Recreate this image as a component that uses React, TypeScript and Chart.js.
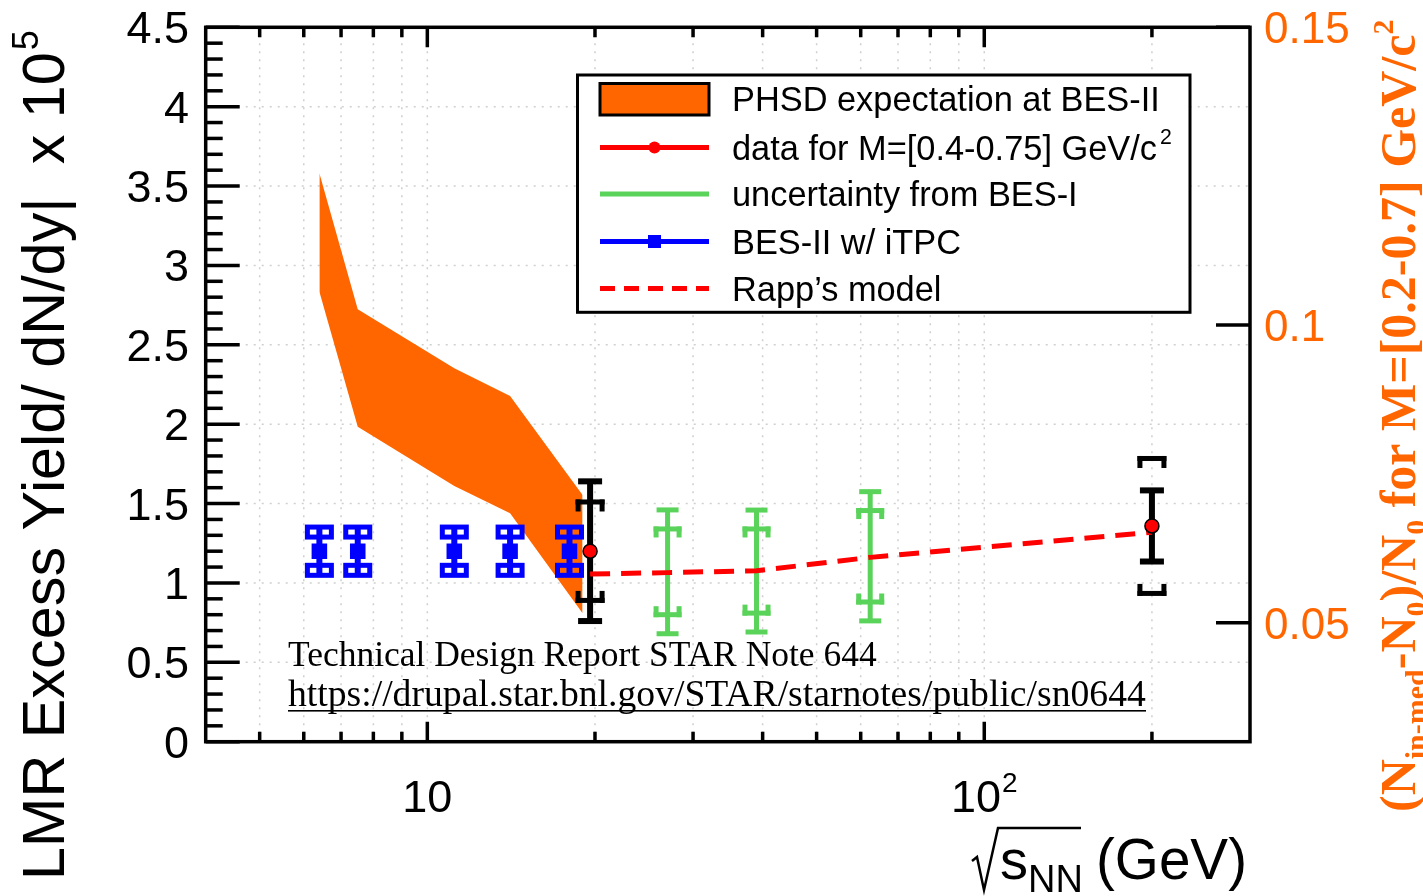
import React, { useEffect, useRef } from 'react';
import { Chart, registerables } from 'chart.js';

Chart.register(...registerables);

const W = 1423;
const H = 896;

// ---------- data ----------
// PHSD expectation band (orange)
const phsdEnergy = [6.4, 7.5, 11.18, 14.08, 19.0];
const phsdLow = [2.835, 1.984, 1.611, 1.439, 0.809];
const phsdHigh = [3.58, 2.724, 2.352, 2.178, 1.554];

// Rapp's model (red dashed)
const rappEnergy = [19.6, 27, 39, 62.4, 200];
const rappYield = [1.056, 1.065, 1.077, 1.161, 1.32];

// BES-II w/ iTPC projections (blue)
const besIIEnergy = [6.4, 7.5, 11.18, 14.08, 18.0];
const besIIYield = [1.2, 1.2, 1.2, 1.2, 1.2];
const besIIErr = [0.152, 0.152, 0.152, 0.152, 0.152];

// data for M=[0.4-0.75] GeV/c2 (black bars, red marker)
const dataEnergy = [19.6, 200];
const dataYield = [1.2, 1.359];
const dataStat = [0.44, 0.224];
const dataSys = [0.31, 0.425];

// uncertainty from BES-I (green)
const besIEnergy = [27, 39, 62.4];
const besIYield = [1.07, 1.075, 1.168];
const besIStat = [0.39, 0.384, 0.407];
const besISys = [0.27, 0.265, 0.288];

// ticks
const yTickValues = [0, 0.5, 1, 1.5, 2, 2.5, 3, 3.5, 4, 4.5];
const yTickLabels = ['0', '0.5', '1', '1.5', '2', '2.5', '3', '3.5', '4', '4.5'];
const xMajorValues = [10, 100];
const xMajorLabels = ['10', '10'];
const xMajorSup = ['', '2'];
const xMinorValues = [5, 6, 7, 8, 9, 20, 30, 40, 50, 60, 70, 80, 90, 200];
const rightTickValues = [0.05, 0.1, 0.15];
const rightTickLabels = ['0.05', '0.1', '0.15'];

const ORANGE = '#ff6600';
const GREEN = '#5ad35a';
const BLUE = '#0000ff';
const RED = '#ff0000';
const SANS = '"Liberation Sans", Arial, Helvetica, sans-serif';
const SERIF = '"Liberation Serif", "Times New Roman", serif';

function fillBar(ctx: any, x: number, y: number, w: number, h: number) {
  ctx.fillRect(x, y, w, h);
}

function drawBracket(ctx: any, px: number, py: number, bw: number, t: number, leg: number, top: boolean) {
  fillBar(ctx, px - bw / 2, py - t / 2, bw, t);
  if (top) {
    fillBar(ctx, px - bw / 2, py - t / 2, t, leg);
    fillBar(ctx, px + bw / 2 - t, py - t / 2, t, leg);
  } else {
    fillBar(ctx, px - bw / 2, py + t / 2 - leg, t, leg);
    fillBar(ctx, px + bw / 2 - t, py + t / 2 - leg, t, leg);
  }
}

function drawErrorBars(chart: any) {
  const ctx = chart.ctx;
  const xs = chart.scales.x;
  const ys = chart.scales.y;
  ctx.save();
  // green: BES-I uncertainty
  ctx.fillStyle = GREEN;
  besIEnergy.forEach((e, i) => {
    const px = xs.getPixelForValue(e);
    const c = besIYield[i];
    const yt = ys.getPixelForValue(c + besIStat[i]);
    const yb = ys.getPixelForValue(c - besIStat[i]);
    fillBar(ctx, px - 2.5, yt, 5, yb - yt);
    fillBar(ctx, px - 11, yt - 2.5, 22, 5);
    fillBar(ctx, px - 11, yb - 2.5, 22, 5);
    drawBracket(ctx, px, ys.getPixelForValue(c + besISys[i]), 28, 5, 11, true);
    drawBracket(ctx, px, ys.getPixelForValue(c - besISys[i]), 28, 5, 11, false);
  });
  // blue: BES-II projections
  ctx.strokeStyle = BLUE;
  ctx.fillStyle = BLUE;
  ctx.lineWidth = 5;
  besIIEnergy.forEach((e, i) => {
    const px = xs.getPixelForValue(e);
    const c = besIIYield[i];
    const yt = ys.getPixelForValue(c + besIIErr[i]);
    const yb = ys.getPixelForValue(c - besIIErr[i]);
    fillBar(ctx, px - 3, yt, 6, yb - yt);
    ctx.strokeRect(px - 12, yt, 24, 10);
    ctx.strokeRect(px - 12, yb - 10, 24, 10);
  });
  // black: data
  ctx.fillStyle = '#000';
  dataEnergy.forEach((e, i) => {
    const px = xs.getPixelForValue(e);
    const c = dataYield[i];
    const yt = ys.getPixelForValue(c + dataStat[i]);
    const yb = ys.getPixelForValue(c - dataStat[i]);
    fillBar(ctx, px - 3, yt, 6, yb - yt);
    fillBar(ctx, px - 12, yt - 3, 24, 6);
    fillBar(ctx, px - 12, yb - 3, 24, 6);
    drawBracket(ctx, px, ys.getPixelForValue(c + dataSys[i]), 29, 5, 12, true);
    drawBracket(ctx, px, ys.getPixelForValue(c - dataSys[i]), 29, 5, 12, false);
  });
  ctx.restore();
}

function drawGrid(chart: any) {
  const ctx = chart.ctx;
  const a = chart.chartArea;
  const xs = chart.scales.x;
  const ys = chart.scales.y;
  ctx.save();
  ctx.strokeStyle = '#cfcfcf';
  ctx.lineWidth = 1.5;
  ctx.setLineDash([2, 6]);
  yTickValues.forEach((v) => {
    if (v <= 0 || v >= 4.5) return;
    const py = ys.getPixelForValue(v);
    ctx.beginPath();
    ctx.moveTo(a.left, py);
    ctx.lineTo(a.right, py);
    ctx.stroke();
  });
  [...xMinorValues, ...xMajorValues].forEach((v) => {
    const px = xs.getPixelForValue(v);
    ctx.beginPath();
    ctx.moveTo(px, a.top);
    ctx.lineTo(px, a.bottom);
    ctx.stroke();
  });
  ctx.restore();
}

function drawAxes(chart: any) {
  const ctx = chart.ctx;
  const a = chart.chartArea;
  const xs = chart.scales.x;
  const ys = chart.scales.y;
  const y2 = chart.scales.y2;
  ctx.save();
  ctx.strokeStyle = '#000';
  ctx.fillStyle = '#000';
  ctx.lineWidth = 3.5;
  ctx.strokeRect(a.left, a.top, a.right - a.left, a.bottom - a.top);
  // left ticks: major every 0.5, minor every 0.1
  for (let k = 0; k <= 45; k++) {
    const v = k / 10;
    const py = ys.getPixelForValue(v);
    const len = k % 5 === 0 ? 34 : 17;
    ctx.beginPath();
    ctx.moveTo(a.left, py);
    ctx.lineTo(a.left + len, py);
    ctx.stroke();
  }
  // right ticks
  rightTickValues.forEach((v) => {
    const py = y2.getPixelForValue(v);
    ctx.beginPath();
    ctx.moveTo(a.right, py);
    ctx.lineTo(a.right - 34, py);
    ctx.stroke();
  });
  // top/bottom ticks
  const xt = [
    ...xMinorValues.map((v) => [v, 10]),
    ...xMajorValues.map((v) => [v, 20]),
  ];
  xt.forEach(([v, len]) => {
    const px = xs.getPixelForValue(v);
    ctx.beginPath();
    ctx.moveTo(px, a.bottom);
    ctx.lineTo(px, a.bottom - len);
    ctx.moveTo(px, a.top);
    ctx.lineTo(px, a.top + len);
    ctx.stroke();
  });

  // left tick labels
  ctx.font = `45px ${SANS}`;
  ctx.textAlign = 'right';
  ctx.textBaseline = 'alphabetic';
  yTickValues.forEach((v, i) => {
    const py = ys.getPixelForValue(v);
    ctx.fillText(yTickLabels[i], 189, py + 16);
  });
  // bottom tick labels
  xMajorValues.forEach((v, i) => {
    const px = xs.getPixelForValue(v);
    ctx.font = `45px ${SANS}`;
    const w1 = ctx.measureText(xMajorLabels[i]).width;
    let w2 = 0;
    if (xMajorSup[i]) {
      ctx.font = `28px ${SANS}`;
      w2 = ctx.measureText(xMajorSup[i]).width + 1;
    }
    const x0 = px - (w1 + w2) / 2;
    ctx.textAlign = 'left';
    ctx.font = `45px ${SANS}`;
    ctx.fillText(xMajorLabels[i], x0, 812);
    if (xMajorSup[i]) {
      ctx.font = `28px ${SANS}`;
      ctx.fillText(xMajorSup[i], x0 + w1 + 1, 792);
    }
  });
  // right tick labels
  ctx.fillStyle = ORANGE;
  ctx.font = `44px ${SANS}`;
  ctx.textAlign = 'left';
  rightTickValues.forEach((v, i) => {
    const py = y2.getPixelForValue(v);
    ctx.fillText(rightTickLabels[i], 1264, py + 16);
  });
  ctx.restore();
}

function drawTitles(chart: any) {
  const ctx = chart.ctx;
  ctx.save();
  ctx.fillStyle = '#000';
  ctx.textAlign = 'left';
  ctx.textBaseline = 'alphabetic';

  // left y title (rotated)
  ctx.save();
  ctx.translate(64, 880);
  ctx.rotate(-Math.PI / 2);
  const yTitle = 'LMR Excess Yield/ dN/dy|  x 10';
  ctx.font = `58px ${SANS}`;
  const yw = ctx.measureText(yTitle).width;
  const ys = (58 * 828) / yw;
  ctx.font = `${ys}px ${SANS}`;
  ctx.fillText(yTitle, 0, 0);
  const yw2 = ctx.measureText(yTitle).width;
  ctx.font = `36px ${SANS}`;
  ctx.fillText('5', yw2 + 2, -26);
  ctx.restore();

  // x title: sqrt(s_NN) (GeV)
  ctx.save();
  ctx.strokeStyle = '#000';
  ctx.lineWidth = 2.5;
  ctx.lineJoin = 'miter';
  ctx.beginPath();
  ctx.moveTo(972, 861);
  ctx.lineTo(977, 857);
  ctx.lineTo(984, 890);
  ctx.lineTo(998, 828);
  ctx.lineTo(1081, 828);
  ctx.stroke();
  ctx.font = `56px ${SANS}`;
  ctx.fillText('s', 1000, 879);
  ctx.font = `38px ${SANS}`;
  ctx.fillText('NN', 1028, 892);
  ctx.font = `56px ${SANS}`;
  const gw = ctx.measureText('(GeV)').width;
  ctx.font = `${(56 * 151) / gw}px ${SANS}`;
  ctx.fillText('(GeV)', 1096, 879);
  ctx.restore();

  // right title (rotated, orange bold serif)
  ctx.save();
  ctx.fillStyle = ORANGE;
  ctx.translate(1415, 812);
  ctx.rotate(-Math.PI / 2);
  const pieces: [string, string][] = [
    ['(N', 'm'],
    ['in-med', 'b'],
    ['-N', 'm'],
    ['0', 'b'],
    [')/N', 'm'],
    ['0', 'b'],
    [' for M=[0.2-0.7] GeV/c', 'm'],
    ['2', 'p'],
  ];
  let cx = 0;
  pieces.forEach(([t, k]) => {
    let dy = 0;
    if (k === 'm') ctx.font = `bold 50px ${SERIF}`;
    else {
      ctx.font = `bold 30px ${SERIF}`;
      dy = k === 'b' ? 11 : -22;
    }
    ctx.fillText(t, cx, dy);
    cx += ctx.measureText(t).width;
  });
  ctx.restore();

  // annotation
  ctx.font = `32px ${SERIF}`;
  const l1 = 'Technical Design Report STAR Note 644';
  let w = ctx.measureText(l1).width;
  ctx.font = `${(32 * 589) / w}px ${SERIF}`;
  ctx.fillText(l1, 288, 666);
  const l2 = 'https://drupal.star.bnl.gov/STAR/starnotes/public/sn0644';
  ctx.font = `32px ${SERIF}`;
  w = ctx.measureText(l2).width;
  ctx.font = `${(32 * 858) / w}px ${SERIF}`;
  ctx.fillText(l2, 288, 706);
  ctx.fillRect(288, 710, 858, 1.6);
  ctx.restore();
}

function drawLegend(chart: any) {
  const ctx = chart.ctx;
  ctx.save();
  ctx.fillStyle = '#fff';
  ctx.fillRect(577.5, 75, 612.5, 237.3);
  ctx.strokeStyle = '#000';
  ctx.lineWidth = 3;
  ctx.strokeRect(577.5, 75, 612.5, 237.3);

  const rowsY = [99, 147.5, 194, 241.5, 288.5];
  const x0 = 600;
  const x1 = 709;
  // orange box
  ctx.fillStyle = ORANGE;
  ctx.fillRect(x0, 83.5, x1 - x0, 31.5);
  ctx.lineWidth = 3;
  ctx.strokeRect(x0, 83.5, x1 - x0, 31.5);
  // red line with dot
  ctx.lineWidth = 5;
  ctx.strokeStyle = RED;
  ctx.beginPath();
  ctx.moveTo(x0, rowsY[1]);
  ctx.lineTo(x1, rowsY[1]);
  ctx.stroke();
  ctx.fillStyle = RED;
  ctx.beginPath();
  ctx.arc((x0 + x1) / 2, rowsY[1], 6, 0, Math.PI * 2);
  ctx.fill();
  // green
  ctx.strokeStyle = GREEN;
  ctx.beginPath();
  ctx.moveTo(x0, rowsY[2]);
  ctx.lineTo(x1, rowsY[2]);
  ctx.stroke();
  // blue with square
  ctx.strokeStyle = BLUE;
  ctx.beginPath();
  ctx.moveTo(x0, rowsY[3]);
  ctx.lineTo(x1, rowsY[3]);
  ctx.stroke();
  ctx.fillStyle = BLUE;
  ctx.fillRect((x0 + x1) / 2 - 6.5, rowsY[3] - 6.5, 13, 13);
  // red dashed
  ctx.strokeStyle = RED;
  ctx.setLineDash([15, 9]);
  ctx.beginPath();
  ctx.moveTo(x0, rowsY[4]);
  ctx.lineTo(x1, rowsY[4]);
  ctx.stroke();
  ctx.setLineDash([]);

  // texts
  ctx.fillStyle = '#000';
  ctx.textAlign = 'left';
  ctx.textBaseline = 'alphabetic';
  ctx.font = `34px ${SANS}`;
  const t0 = 'PHSD expectation at BES-II';
  const m = ctx.measureText(t0).width;
  const fs = (34 * 428) / m;
  const font = `${fs}px ${SANS}`;
  ctx.font = font;
  const off = fs * 0.36;
  ctx.fillText(t0, 732, rowsY[0] + off);
  const t1 = 'data for M=[0.4-0.75] GeV/c';
  ctx.fillText(t1, 732, rowsY[1] + off);
  const w1 = ctx.measureText(t1).width;
  ctx.font = `${fs * 0.62}px ${SANS}`;
  ctx.fillText('2', 732 + w1 + 3, rowsY[1] - 4);
  ctx.font = font;
  ctx.fillText('uncertainty from BES-I', 732, rowsY[2] + off);
  ctx.fillText('BES-II w/ iTPC', 732, rowsY[3] + off);
  ctx.fillText('Rapp\u2019s model', 732, rowsY[4] + off);
  ctx.restore();
}

const customPlugin = {
  id: 'customDraw',
  beforeDatasetsDraw(chart: any) {
    drawGrid(chart);
  },
  afterDatasetDraw(chart: any, args: any) {
    if (args.index === 1) drawErrorBars(chart);
  },
  afterDraw(chart: any) {
    drawAxes(chart);
    drawLegend(chart);
    drawTitles(chart);
  },
};

export default function App() {
  const ref = useRef<HTMLCanvasElement | null>(null);

  useEffect(() => {
    const canvas = ref.current;
    if (!canvas) return;
    const xy = (xs: number[], ys: number[]) => xs.map((x, i) => ({ x, y: ys[i] }));
    const chart = new Chart(canvas, {
      type: 'line',
      data: {
        datasets: [
          {
            label: 'PHSD low',
            data: xy(phsdEnergy, phsdLow),
            borderWidth: 0,
            borderColor: ORANGE,
            pointRadius: 0,
            fill: false,
            order: 6,
          },
          {
            label: 'PHSD expectation at BES-II',
            data: xy(phsdEnergy, phsdHigh),
            borderWidth: 0,
            borderColor: ORANGE,
            backgroundColor: ORANGE,
            pointRadius: 0,
            fill: '-1',
            order: 5,
          },
          {
            label: "Rapp's model",
            data: xy(rappEnergy, rappYield),
            borderColor: RED,
            borderWidth: 5,
            borderDash: [20, 11],
            pointRadius: 0,
            fill: false,
            order: 4,
          },
          {
            label: 'uncertainty from BES-I',
            data: xy(besIEnergy, besIYield),
            showLine: false,
            pointRadius: 0,
            order: 3,
          },
          {
            label: 'BES-II w/ iTPC',
            data: xy(besIIEnergy, besIIYield),
            showLine: false,
            pointStyle: 'rect',
            pointRadius: 11,
            backgroundColor: BLUE,
            borderWidth: 0,
            order: 2,
          },
          {
            label: 'data for M=[0.4-0.75] GeV/c2',
            data: xy(dataEnergy, dataYield),
            showLine: false,
            pointStyle: 'circle',
            pointRadius: 7,
            backgroundColor: RED,
            borderColor: '#000',
            borderWidth: 1.5,
            order: 1,
          },
        ],
      },
      options: {
        responsive: false,
        animation: false,
        devicePixelRatio: 1,
        layout: { padding: { left: 205.7, right: 173, top: 27.3, bottom: 154.3 } },
        plugins: { legend: { display: false }, tooltip: { enabled: false } },
        events: [],
        scales: {
          x: { type: 'logarithmic', min: 4, max: 300, display: false },
          y: { type: 'linear', min: 0, max: 4.5, display: false },
          y2: { type: 'linear', position: 'right', min: 0.03, max: 0.15, display: false },
        },
      },
      plugins: [customPlugin],
    } as any);
    return () => chart.destroy();
  }, []);

  return (
    <div style={{ position: 'absolute', left: 0, top: 0, width: W, height: H, background: '#fff' }}>
      <canvas ref={ref} width={W} height={H} style={{ display: 'block', width: W, height: H }} />
    </div>
  );
}
